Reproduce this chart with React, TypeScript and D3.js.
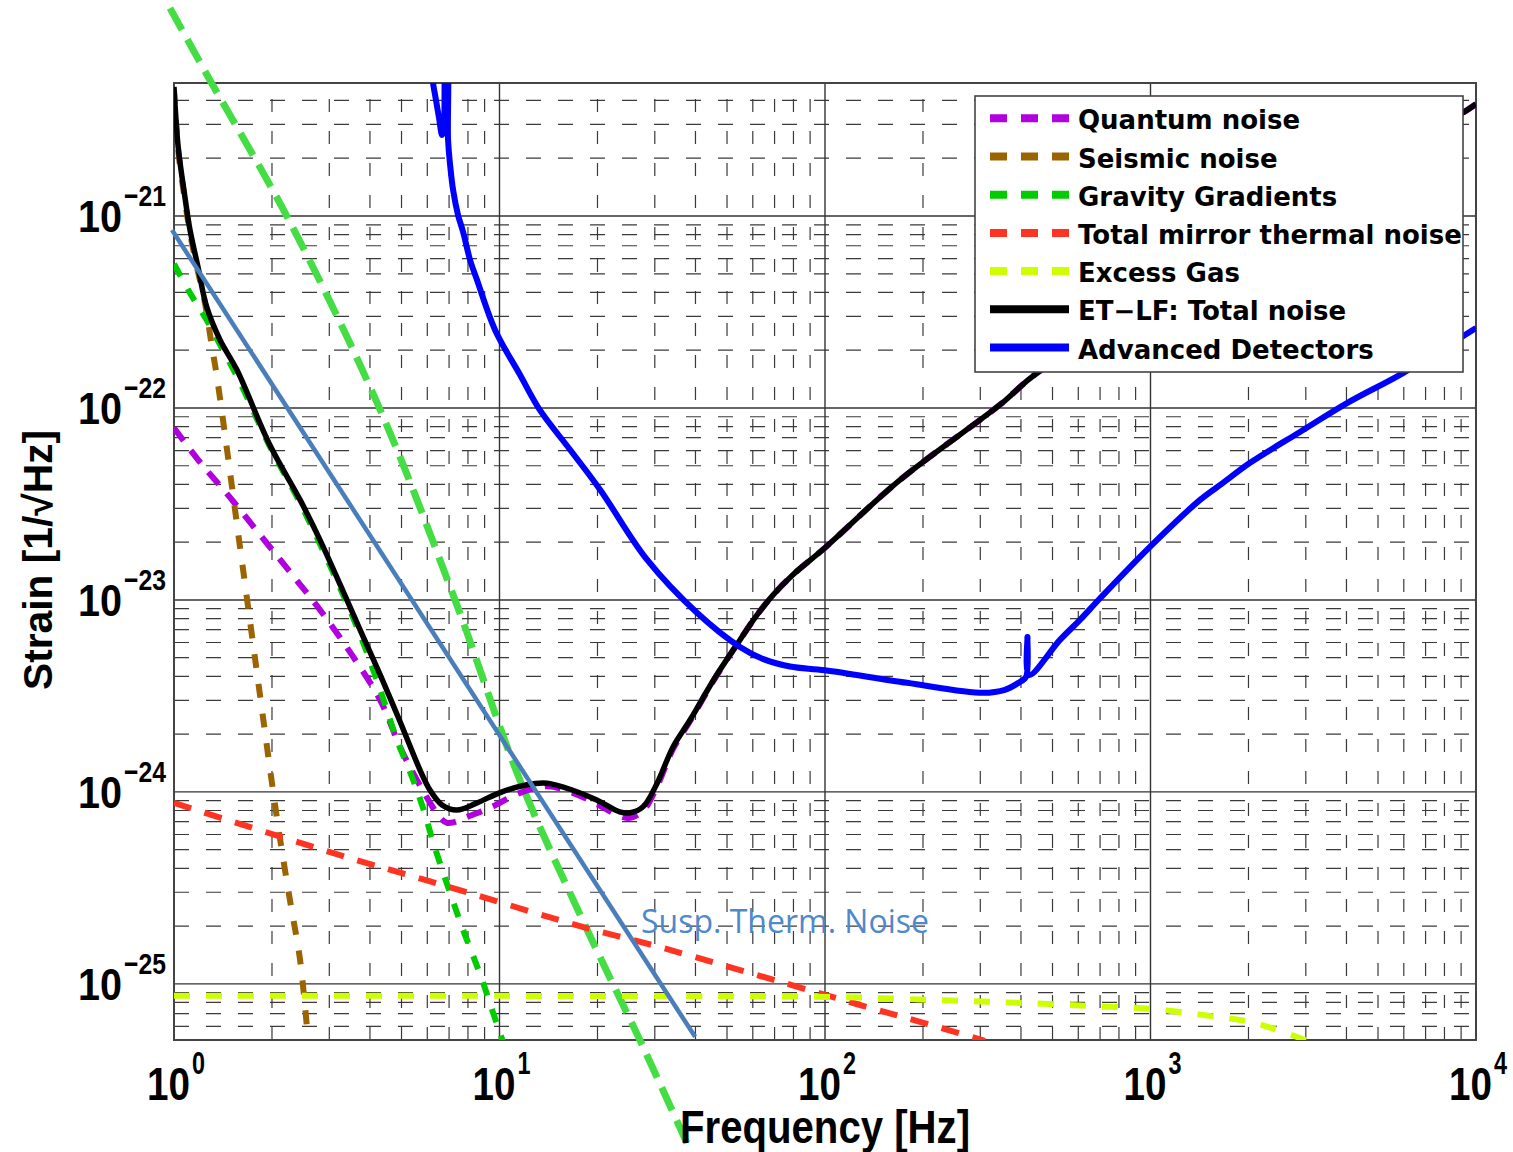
import React from 'react';
import * as d3 from 'd3';

type Pt = [number, number];

const xTicks = [1, 10, 100, 1000, 10000];
const xTickExp = ['0', '1', '2', '3', '4'];
const yTicks = [1e-21, 1e-22, 1e-23, 1e-24, 1e-25];
const yTickExp = ['−21', '−22', '−23', '−24', '−25'];

const quantumNoise: Pt[] = [
  [1.0, 7.87e-23], [1.2, 5.24e-23], [1.49, 3.4e-23], [1.84, 2.18e-23], [2.27, 1.4e-23],
  [2.81, 8.87e-24], [3.47, 5.36e-24], [4.3, 3.01e-24], [4.95, 1.71e-24], [5.42, 1.26e-24],
  [6.12, 8.77e-25], [6.57, 7.33e-25], [6.9, 6.9e-25], [7.3, 6.98e-25], [7.95, 7.41e-25],
  [9.35, 8.26e-25], [11.56, 9.89e-25], [14.0, 1.07e-24], [16.8, 9.89e-25], [19.9, 8.65e-25],
  [23.4, 7.5e-25], [25.2, 7.33e-25], [27.6, 7.96e-25], [30.5, 1.07e-24], [34.1, 1.67e-24],
  [38.5, 2.34e-24], [45.9, 3.9e-24], [54.8, 6.19e-24], [62, 8.4e-24], [69.2, 1.06e-23],
  [80, 1.36e-23], [100, 1.87e-23], [170, 4.22e-23], [345, 1.04e-22], [448, 1.52e-22],
  [2022, 7.23e-22], [9385, 3.56e-21], [10000, 3.83e-21],
];

const seismicNoise: Pt[] = [
  [1.0, 4.53e-21], [1.03, 2.21e-21], [1.08, 1.21e-21], [1.12, 8.15e-22], [1.185, 5.11e-22],
  [1.228, 3.97e-22], [1.26, 3.13e-22], [1.308, 2.08e-22], [1.355, 1.45e-22], [1.595, 1.89e-23],
  [1.837, 3.2e-24], [2.0, 1.11e-24], [2.12, 5.62e-25], [2.27, 2.74e-25], [2.44, 1.33e-25],
  [2.56, 5.97e-26],
];

const gravityGradients: Pt[] = [
  [1.0, 5.62e-22], [1.12, 3.97e-22], [1.26, 2.87e-22], [1.414, 2.0e-22], [1.595, 1.36e-22],
  [1.97, 6.3e-23], [2.44, 3.2e-23], [3.01, 1.52e-23], [3.73, 6.58e-24], [4.3, 3.4e-24],
  [4.84, 1.87e-24], [5.38, 1.2e-24], [5.82, 8.26e-25], [6.29, 5.3e-25], [7.05, 2.98e-25],
  [7.67, 1.98e-25], [8.23, 1.45e-25], [8.84, 1.05e-25], [9.49, 7.32e-26], [10.25, 4.99e-26],
];

const mirrorThermal: Pt[] = [
  [1.0, 8.77e-25], [3.0, 4.87e-25], [7.5, 3.09e-25], [18, 1.98e-25], [30, 1.58e-25],
  [100, 8.77e-26], [137.5, 7.5e-26], [195.8, 6.34e-26], [310, 5.05e-26],
];

const excessGas: Pt[] = [
  [1.0, 8.66e-26], [10, 8.66e-26], [103.6, 8.55e-26], [170, 8.36e-26], [260, 8.15e-26],
  [397, 7.96e-26], [652, 7.67e-26], [996, 7.41e-26], [1523, 6.81e-26], [2022, 6.34e-26],
  [2500, 5.69e-26], [3150, 4.93e-26],
];

const totalNoise: Pt[] = [
  [1.0, 4.7e-21], [1.03, 2.29e-21], [1.08, 1.26e-21], [1.12, 8.45e-22], [1.185, 5.42e-22],
  [1.26, 3.36e-22], [1.385, 2.26e-22], [1.56, 1.58e-22], [1.97, 6.41e-23], [2.44, 3.32e-23],
  [2.81, 2.05e-23], [3.24, 1.2e-23], [3.73, 6.98e-24], [4.3, 4.07e-24], [4.95, 2.32e-24],
  [5.7, 1.3e-24], [6.12, 1.02e-24], [6.66, 8.55e-25], [7.4, 8.05e-25], [8.53, 8.77e-25],
  [10.0, 9.89e-25], [12.15, 1.09e-24], [14.0, 1.11e-24], [16.8, 1.02e-24], [19.9, 9.08e-25],
  [23.4, 7.87e-25], [25.2, 7.78e-25], [27.6, 8.36e-25], [30.5, 1.11e-24], [34.1, 1.71e-24],
  [38.5, 2.37e-24], [45.9, 3.93e-24], [54.8, 6.19e-24], [62, 8.4e-24], [69.2, 1.06e-23],
  [80, 1.36e-23], [100, 1.87e-23], [170, 4.22e-23], [345, 1.04e-22], [448, 1.52e-22],
  [2022, 7.23e-22], [9385, 3.56e-21], [10000, 3.83e-21],
];

const advancedDetectors: Pt[] = [
  [6.2, 5.75e-21], [6.25, 4.93e-21], [6.38, 4.02e-21], [6.52, 3.24e-21], [6.66, 2.64e-21],
  [6.75, 2.98e-21], [6.85, 6.5e-21], [6.9, 6.5e-21], [6.95, 2.49e-21], [7.05, 1.85e-21],
  [7.2, 1.37e-21], [7.46, 1.01e-21], [7.73, 8.26e-22], [8.12, 5.9e-22], [8.53, 4.64e-22],
  [9.69, 2.55e-22], [11.56, 1.49e-22], [13.3, 9.77e-23], [16.5, 6.04e-23], [20.4, 3.74e-23],
  [28.4, 1.62e-23], [40.5, 8.55e-24], [54.8, 5.69e-24], [65, 4.9e-24], [78.1, 4.5e-24],
  [100, 4.3e-24], [178.6, 3.7e-24], [306, 3.28e-24], [357, 3.4e-24], [397, 3.74e-24],
  [414.6, 3.97e-24], [418.8, 6.41e-24], [423.4, 4.07e-24], [527, 6.19e-24], [607, 7.87e-24],
  [700, 1.02e-23], [996, 1.89e-23], [1420, 3.32e-23], [1670, 4.07e-23], [2022, 5.18e-23],
  [2880, 7.5e-23], [4015, 1.06e-22], [5968, 1.52e-22], [10000, 2.61e-22],
];

const suspThermLine: Pt[] = [[0.986, 8.45e-22], [39.9, 5.3e-26]];

const steepGreenLine: Pt[] = [
  [0.972, 1.21e-20], [1.29, 5.1e-21], [2.27, 9.31e-22], [4.3, 9.77e-23], [7.3, 1.0e-23],
  [11.56, 1.15e-24], [18.6, 1.91e-25], [27.6, 4.7e-26], [38.5, 1.36e-26],
];

const legendLabels = [
  'Quantum noise', 'Seismic noise', 'Gravity Gradients', 'Total mirror thermal noise',
  'Excess Gas', 'ET\u2212LF: Total noise', 'Advanced Detectors',
];
const legendColors = ['#b000e0', '#9c6400', '#00cc00', '#ff3322', '#ccff00', '#000000', '#0000ff'];
const legendDashed = [true, true, true, true, true, false, false];

const W = 1513;
const H = 1152;
const L = 174, R = 1476, T = 83, B = 1040;

export default function App() {
  const x = d3.scaleLog().domain([1, 1e4]).range([L, R]);
  const y = d3.scaleLog().domain([5.1e-26, 4.93e-21]).range([B, T]);
  const line = d3.line<Pt>().x(d => x(d[0])).y(d => y(d[1])).curve(d3.curveCatmullRom.alpha(0.5));
  const straight = d3.line<Pt>().x(d => x(d[0])).y(d => y(d[1]));

  const xMinor: number[] = [];
  for (let e = 0; e < 4; e++) for (let k = 2; k <= 9; k++) xMinor.push(k * Math.pow(10, e));
  const yMinor: number[] = [];
  for (let e = -26; e <= -21; e++) for (let k = 2; k <= 9; k++) {
    const v = k * Math.pow(10, e);
    if (v > 5.1e-26 && v < 4.93e-21) yMinor.push(v);
  }

  const series: { data: Pt[]; color: string; dash?: string; w: number }[] = [
    { data: quantumNoise, color: legendColors[0], dash: '16,12', w: 6 },
    { data: seismicNoise, color: legendColors[1], dash: '14,16', w: 6 },
    { data: gravityGradients, color: legendColors[2], dash: '14,14', w: 6 },
    { data: mirrorThermal, color: legendColors[3], dash: '18,14', w: 6 },
    { data: excessGas, color: legendColors[4], dash: '16,16', w: 6 },
    { data: totalNoise, color: legendColors[5], w: 5.5 },
    { data: advancedDetectors, color: legendColors[6], w: 6 },
  ];

  const tickFont = 'Liberation Sans, Arial, sans-serif';

  return (
    <svg width={W} height={H} style={{ position: 'absolute', left: 0, top: 0, background: '#fff' }}>
      <defs>
        <clipPath id="plotClip">
          <rect x={L} y={T} width={R - L} height={B - T} />
        </clipPath>
      </defs>
      <rect x={0} y={0} width={W} height={H} fill="#fff" />
      {/* minor grid */}
      <g stroke="#3a3a3a" strokeWidth={1.2}>
        {xMinor.map(v => (
          <line key={'xm' + v} x1={x(v)} x2={x(v)} y1={B} y2={T} strokeDasharray="13,19" />
        ))}
        {yMinor.map(v => (
          <line key={'ym' + v} x1={L} x2={R} y1={y(v)} y2={y(v)} strokeDasharray="15,17" />
        ))}
      </g>
      {/* major grid */}
      <g stroke="#333" strokeWidth={1.4}>
        {xTicks.slice(1, -1).map(v => (
          <line key={'xM' + v} x1={x(v)} x2={x(v)} y1={B} y2={T} />
        ))}
        {yTicks.map(v => (
          <line key={'yM' + v} x1={L} x2={R} y1={y(v)} y2={y(v)} />
        ))}
      </g>
      {/* axes box */}
      <rect x={L} y={T} width={R - L} height={B - T} fill="none" stroke="#444" strokeWidth={2} />

      {/* steep overlay green line */}
      <path d={line(steepGreenLine) || ''} fill="none" stroke="#44dd44" strokeWidth={7} strokeDasharray="25,11" />

      <g clipPath="url(#plotClip)">
        {series.map((s, i) => (
          <path
            key={'s' + i}
            d={line(s.data) || ''}
            fill="none"
            stroke={s.color}
            strokeWidth={s.w}
            strokeDasharray={s.dash}
            strokeLinejoin="round"
          />
        ))}
      </g>

      {/* susp therm overlay */}
      <path d={straight(suspThermLine) || ''} fill="none" stroke="#4a7ebb" strokeWidth={4.5} />
      <text x={641} y={933} fontFamily="Open Sans, Calibri, sans-serif" fontSize={32} fill="#5088cc">
        Susp. Therm. Noise
      </text>

      {/* y tick labels */}
      {yTicks.map((v, i) => (
        <g key={'yt' + v} fontFamily={tickFont} fontWeight="bold" fill="#000">
          <text x={122} y={y(v) + 16} textAnchor="end" fontSize={44} textLength={44} lengthAdjust="spacingAndGlyphs">10</text>
          <text x={124} y={y(v) - 10} fontSize={30} textLength={42} lengthAdjust="spacingAndGlyphs">{yTickExp[i]}</text>
        </g>
      ))}
      {/* x tick labels */}
      {xTicks.map((v, i) => (
        <g key={'xt' + v} fontFamily={tickFont} fontWeight="bold" fill="#000">
          <text x={x(v) - 27} y={1100} fontSize={46} textLength={43} lengthAdjust="spacingAndGlyphs">10</text>
          <text x={x(v) + 18} y={1074} fontSize={32} textLength={13} lengthAdjust="spacingAndGlyphs">{xTickExp[i]}</text>
        </g>
      ))}

      {/* axis labels */}
      <text x={680} y={1143} fontFamily={tickFont} fontWeight="bold" fontSize={46} textLength={290} lengthAdjust="spacingAndGlyphs">
        Frequency [Hz]
      </text>
      <text
        transform="translate(52,690) rotate(-90)"
        x={0}
        y={0}
        fontFamily={tickFont}
        fontWeight="bold"
        fontSize={40}
        textLength={260}
        lengthAdjust="spacingAndGlyphs"
      >
        Strain [1/√Hz]
      </text>

      {/* legend */}
      <g>
        <rect x={975} y={96} width={488} height={276} fill="#fff" stroke="#444" strokeWidth={1.6} />
        {legendLabels.map((lab, i) => {
          const by = 129.3 + i * 38.2;
          return (
            <g key={'lg' + i}>
              <line
                x1={990}
                x2={1069}
                y1={by - 11}
                y2={by - 11}
                stroke={legendColors[i]}
                strokeWidth={8}
                strokeDasharray={legendDashed[i] ? '17,14' : undefined}
              />
              <text x={1078} y={by} fontFamily="DejaVu Sans, sans-serif" fontWeight="bold" fontSize={26} fill="#000">
                {lab}
              </text>
            </g>
          );
        })}
      </g>
    </svg>
  );
}
